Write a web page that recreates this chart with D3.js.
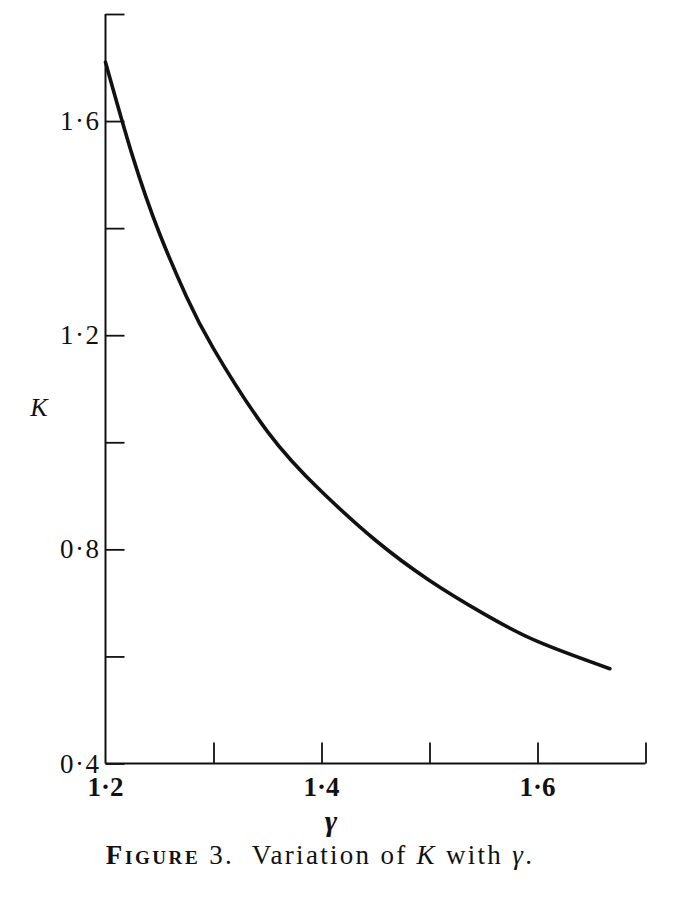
<!DOCTYPE html>
<html>
<head>
<meta charset="utf-8">
<script src="https://cdn.jsdelivr.net/npm/d3@7"></script>
<style>
  html, body { margin: 0; padding: 0; background: #fff; }
  svg { display: block; }
  text { font-family: "Liberation Serif", "DejaVu Serif", serif; fill: #111; }
</style>
</head>
<body>
<svg id="chart" width="690" height="914"></svg>
<script>
// ---- data ----
const gamma = [1.2, 1.225, 1.25, 1.275, 1.3, 1.35, 1.4, 1.45, 1.5, 1.55, 1.6, 1.667];
const K     = [1.71, 1.535, 1.39, 1.272, 1.175, 1.02, 0.908, 0.817, 0.742, 0.680, 0.628, 0.577];
const xTicks = [1.2, 1.3, 1.4, 1.5, 1.6, 1.7];
const xTickLabels = ["1·2", "", "1·4", "", "1·6", ""];
const yTicks = [0.4, 0.6, 0.8, 1.0, 1.2, 1.4, 1.6, 1.8];
const yTickLabels = ["0·4", "", "0·8", "", "1·2", "", "1·6", ""];
const xTitle = "γ";
const yTitle = "K";
const caption = ["Figure", " 3.  Variation of ", "K", " with ", "γ", "."];

// ---- layout ----
const svg = d3.select("#chart");
const x = d3.scaleLinear().domain([1.2, 1.7]).range([105.5, 645.5]);
const y = d3.scaleLinear().domain([0.4, 1.8]).range([763.5, 14]);
const ink = "#111";

// ticks via d3 axes
const gY = svg.append("g").attr("transform", `translate(${x(1.2)},0)`)
  .call(d3.axisRight(y).tickValues(yTicks).tickSize(19).tickFormat(""));
gY.select(".domain").remove();
gY.selectAll(".tick line").attr("stroke", ink).attr("stroke-width", 1.8);

const gX = svg.append("g").attr("transform", `translate(0,${y(0.4)})`)
  .call(d3.axisTop(x).tickValues(xTicks.slice(1)).tickSize(21).tickFormat(""));
gX.select(".domain").remove();
gX.selectAll(".tick line").attr("stroke", ink).attr("stroke-width", 1.8);

// axis lines
svg.append("line")
  .attr("x1", x(1.2)).attr("x2", x(1.2))
  .attr("y1", y(1.8)).attr("y2", y(0.4))
  .attr("stroke", ink).attr("stroke-width", 2);
svg.append("line")
  .attr("x1", x(1.2)).attr("x2", x(1.7))
  .attr("y1", y(0.4)).attr("y2", y(0.4))
  .attr("stroke", ink).attr("stroke-width", 2.2);

// tick labels
svg.append("g").selectAll("text").data(yTicks.map((v, i) => [v, yTickLabels[i]]).filter(d => d[1]))
  .join("text")
  .attr("x", x(1.2) - 5).attr("y", d => y(d[0]) + 9)
  .attr("text-anchor", "end")
  .attr("font-size", 27)
  .attr("letter-spacing", 1.5)
  .text(d => d[1]);

svg.append("g").selectAll("text").data(xTicks.map((v, i) => [v, xTickLabels[i]]).filter(d => d[1]))
  .join("text")
  .attr("x", d => x(d[0])).attr("y", 796)
  .attr("text-anchor", "middle")
  .attr("font-size", 27)
  .attr("font-weight", "bold")
  .text(d => d[1]);

// axis titles
svg.append("text").attr("x", 39).attr("y", 416)
  .attr("text-anchor", "middle").attr("font-size", 26).attr("font-style", "italic")
  .text(yTitle);
svg.append("text").attr("x", 331).attr("y", 831)
  .attr("text-anchor", "middle").attr("font-size", 30).attr("font-style", "italic").attr("font-weight", "bold")
  .text(xTitle);

// caption
const cap = svg.append("text").attr("x", 320).attr("y", 864)
  .attr("text-anchor", "middle").attr("font-size", 27).attr("letter-spacing", 2.3)
  .attr("xml:space", "preserve");
caption.forEach((t, i) => {
  const ts = cap.append("tspan").text(t);
  if (i === 0) ts.attr("font-variant", "small-caps").attr("font-weight", "bold").attr("letter-spacing", 2.6);
  if (i === 2 || i === 4) ts.attr("font-style", "italic");
});

// curve
const pts = gamma.map((g, i) => [g, K[i]]);
svg.append("path").datum(pts)
  .attr("fill", "none").attr("stroke", ink).attr("stroke-width", 3.6)
  .attr("stroke-linecap", "round")
  .attr("d", d3.line().x(d => x(d[0])).y(d => y(d[1])).curve(d3.curveNatural));
</script>
</body>
</html>
